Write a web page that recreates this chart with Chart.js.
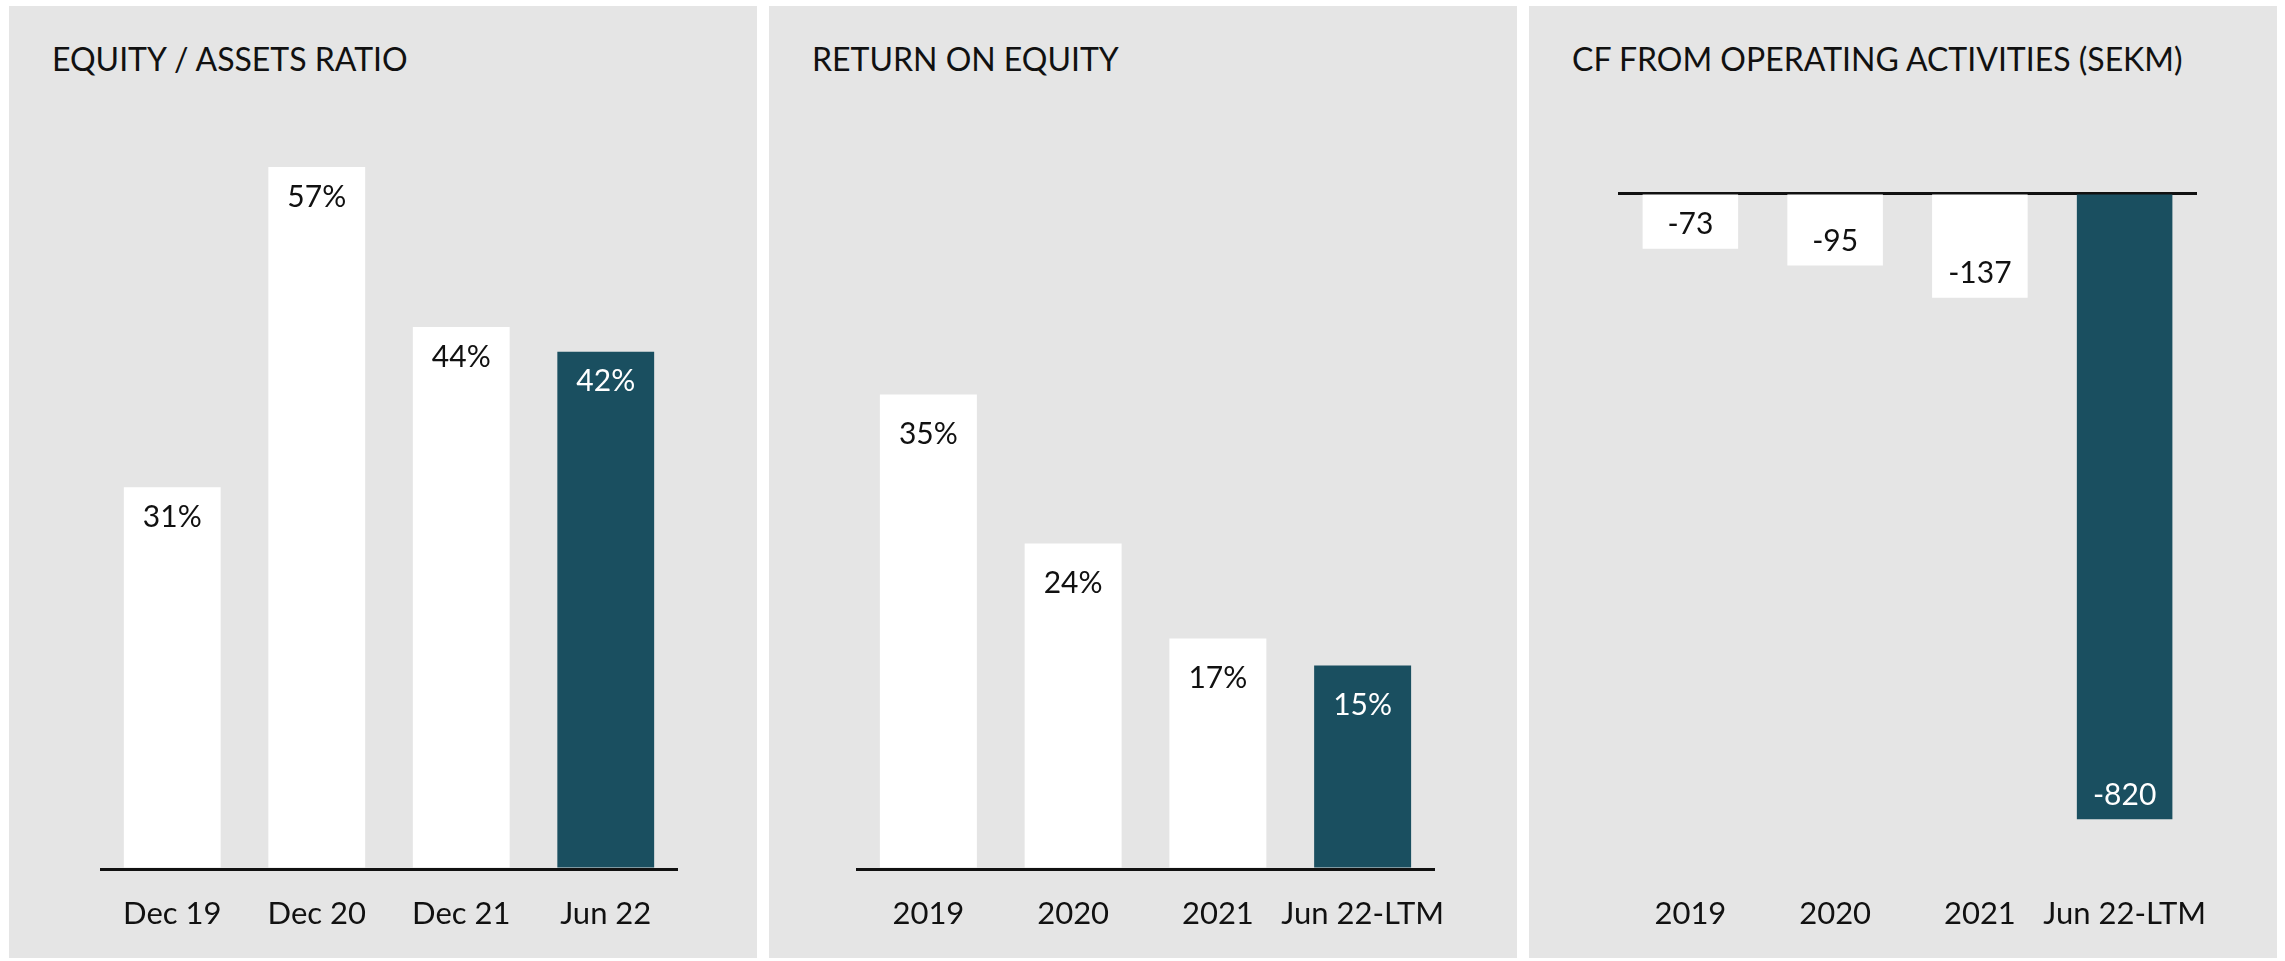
<!DOCTYPE html>
<html>
<head>
<meta charset="utf-8">
<title>Key ratios</title>
<script src="https://cdn.jsdelivr.net/npm/chart.js@4.4.0/dist/chart.umd.min.js"></script>
<style>
  html, body { margin: 0; padding: 0; background: #ffffff; }
  body { width: 2285px; height: 961px; position: relative; overflow: hidden; font-family: Lato, sans-serif; }
  .panel { position: absolute; top: 6px; width: 748px; height: 952px; background: #e5e5e5; }
  .panel h2 { position: absolute; left: 43px; top: 33px; margin: 0; font-weight: 400; font-size: 32px; line-height: 40px; color: #111; white-space: nowrap; }
  canvas { position: absolute; top: 0; }
</style>
</head>
<body>
  <div class="panel" style="left: 9px;"><h2>EQUITY / ASSETS RATIO</h2></div>
  <div class="panel" style="left: 769px;"><h2>RETURN ON EQUITY</h2></div>
  <div class="panel" style="left: 1529px;"><h2>CF FROM OPERATING ACTIVITIES (SEKM)</h2></div>

  <canvas id="equityChart" width="748" height="961" style="left: 9px;"></canvas>
  <canvas id="roeChart" width="748" height="961" style="left: 769px;"></canvas>
  <canvas id="cfChart" width="748" height="961" style="left: 1529px;"></canvas>

<script>
const equityLabels = ["Dec 19", "Dec 20", "Dec 21", "Jun 22"];
const equityValues = [31, 57, 44, 42];

const roeLabels = ["2019", "2020", "2021", "Jun 22-LTM"];
const roeValues = [35, 24, 17, 15];

const cfLabels = ["2019", "2020", "2021", "Jun 22-LTM"];
const cfValues = [-73, -95, -137, -820];

const DARK = "#1a4f60";
const LIGHT = "#ffffff";

// value labels drawn inside each bar, near its end
const valueLabels = {
  id: "valueLabels",
  afterDatasetsDraw(chart, args, options) {
    const { ctx } = chart;
    const meta = chart.getDatasetMeta(0);
    const values = chart.data.datasets[0].data;
    ctx.save();
    ctx.font = "30px Lato";
    ctx.textAlign = "center";
    ctx.textBaseline = "middle";
    meta.data.forEach((bar, i) => {
      const v = values[i];
      const y = v >= 0 ? bar.y + options.offset : bar.y - options.offset;
      ctx.fillStyle = i === values.length - 1 ? "#ffffff" : "#111111";
      ctx.fillText(v + options.suffix, bar.x, y);
    });
    ctx.restore();
  },
};

document.addEventListener("DOMContentLoaded", () => {
  renderBarChart("equityChart", equityLabels, equityValues, {
    min: 0, max: 60, offset: 30, suffix: "%", barPercentage: 0.67,
    padding: { left: 91, right: 79, top: 130, bottom: 2.8 },
  });
  renderBarChart("roeChart", roeLabels, roeValues, {
    min: 0, max: 50, offset: 40, suffix: "%", barPercentage: 0.67,
    padding: { left: 87, right: 82, top: 191, bottom: 2.8 },
  });
  renderBarChart("cfChart", cfLabels, cfValues, {
    min: -885, max: 0, offset: 24, suffix: "", barPercentage: 0.66,
    padding: { left: 89, right: 80, top: 193, bottom: 2.8 },
  });
});

function renderBarChart(canvasId, labels, values, opts) {
  const ctx = document.getElementById(canvasId).getContext("2d");
  const lastIndex = values.length - 1;
  new Chart(ctx, {
    type: "bar",
    data: {
      labels: labels,
      datasets: [
        {
          data: values,
          backgroundColor: values.map((v, i) => (i === lastIndex ? DARK : LIGHT)),
          barPercentage: opts.barPercentage,
          categoryPercentage: 1,
        },
      ],
    },
    options: {
      responsive: false,
      animation: false,
      layout: { padding: opts.padding },
      plugins: {
        legend: { display: false },
        tooltip: { enabled: false },
        valueLabels: { offset: opts.offset, suffix: opts.suffix },
      },
      scales: {
        x: {
          grid: { display: false, drawTicks: false },
          border: { display: false },
          ticks: {
            color: "#111111",
            padding: 26,
            maxRotation: 0,
            autoSkip: false,
            font: { family: "Lato", size: 31, lineHeight: 1.2 },
          },
        },
        y: {
          min: opts.min,
          max: opts.max,
          z: 1,
          ticks: { display: false },
          border: { display: false },
          grid: {
            drawTicks: false,
            lineWidth: 3,
            color: (c) => (c.tick && c.tick.value === 0 ? "#111111" : "rgba(0,0,0,0)"),
          },
        },
      },
    },
    plugins: [valueLabels],
  });
}
</script>
</body>
</html>
